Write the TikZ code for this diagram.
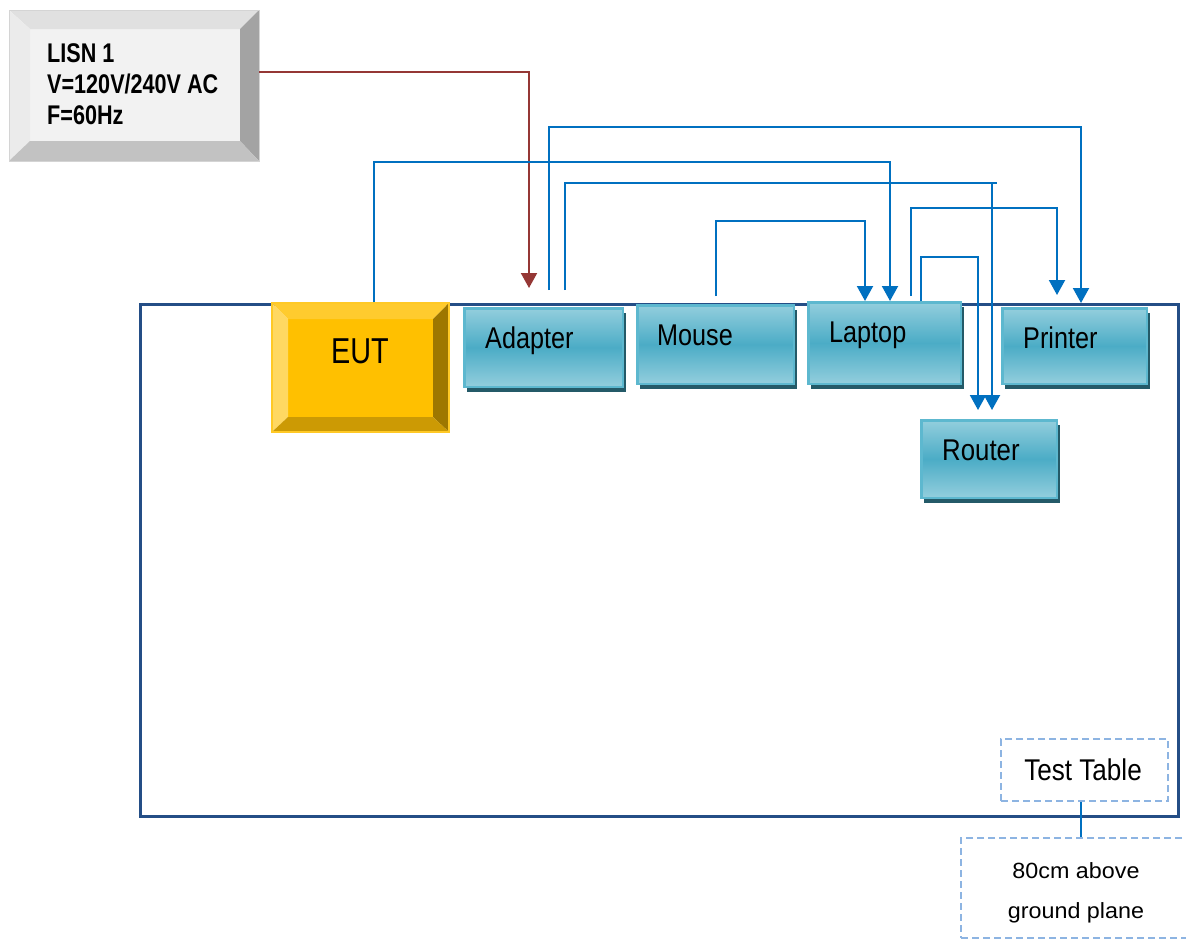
\documentclass[tikz,border=0pt]{standalone}
\usepackage{graphicx}
\usepackage{fontspec}
\setmainfont{Liberation Sans}
\usetikzlibrary{arrows.meta,shadows,calc}
\definecolor{tablec}{HTML}{244E86}
\definecolor{conn}{HTML}{0070C0}
\definecolor{redc}{HTML}{953735}
\definecolor{teallight}{HTML}{93CEDD}
\definecolor{tealmid}{HTML}{4BACC6}
\definecolor{tealedge}{HTML}{5DB8CF}
\definecolor{shadowc}{HTML}{245A68}
\definecolor{dashc}{HTML}{8DB4E2}
\definecolor{lisnface}{HTML}{F2F2F2}
\definecolor{lisntop}{HTML}{E0E0E0}
\definecolor{lisnleft}{HTML}{EBEBEB}
\definecolor{lisnright}{HTML}{A3A3A3}
\definecolor{lisnbot}{HTML}{C2C2C2}
\definecolor{lisnedge}{HTML}{D4D4D4}
\definecolor{eutface}{HTML}{FFC000}
\definecolor{euttop}{HTML}{FFCB2E}
\definecolor{eutleft}{HTML}{FFD862}
\definecolor{eutright}{HTML}{9E7700}
\definecolor{eutbot}{HTML}{CC9A04}
\definecolor{eutedge}{HTML}{FFC926}
\newcommand{\cx}[2][0.84]{\scalebox{#1}[1]{#2}}
\begin{document}
\begin{tikzpicture}[x=1pt,y=-1pt,
  tealbox/.style={draw=tealedge, line width=2.5pt, top color=teallight, bottom color=teallight, middle color=tealmid, inner sep=0,
    drop shadow={shadow xshift=3pt, shadow yshift=-5pt, fill=shadowc, opacity=1}},
  lbl/.style={inner sep=0, font=\fontsize{30}{36}\selectfont},
  lisnlbl/.style={inner sep=0, anchor=base west, font=\bfseries\fontsize{27}{31}\selectfont},
  conn/.style={draw=conn, line width=2pt},
  tip/.style={-{Triangle[width=16pt,length=15pt]}},
  dashbox/.style={draw=dashc, line width=1.8pt, dash pattern=on 7pt off 4pt, inner sep=0},
]
\useasboundingbox (0,0) rectangle (1186,940);
\fill[white] (0,0) rectangle (1186,940);

% test table outline
\node[draw=tablec, line width=3pt, minimum width=1038pt, minimum height=512pt, inner sep=0] (table) at (659,560) {};

% LISN
\fill[lisnface] (30,29) rectangle (240,141);
\fill[lisntop] (9,10) -- (259,10) -- (240,29) -- (30,29) -- cycle;
\fill[lisnleft] (9,10) -- (30,29) -- (30,141) -- (9,161) -- cycle;
\fill[lisnright] (259,10) -- (259,161) -- (240,141) -- (240,29) -- cycle;
\fill[lisnbot] (9,161) -- (30,141) -- (240,141) -- (259,161) -- cycle;
\node[draw=lisnedge, line width=1pt, minimum width=250pt, minimum height=151pt, inner sep=0] (lisn) at (134,85.5) {};
\node[lisnlbl] at (47,62) {\cx[0.8]{LISN 1}};
\node[lisnlbl] at (47,93) {\cx[0.8]{V=120V/240V AC}};
\node[lisnlbl] at (47,124) {\cx[0.8]{F=60Hz}};

% EUT
\fill[eutface] (288,319) rectangle (433,417);
\fill[euttop] (272,303) -- (449,303) -- (433,319) -- (288,319) -- cycle;
\fill[eutleft] (272,303) -- (288,319) -- (288,417) -- (272,432) -- cycle;
\fill[eutright] (449,303) -- (449,432) -- (433,417) -- (433,319) -- cycle;
\fill[eutbot] (272,432) -- (288,417) -- (433,417) -- (449,432) -- cycle;
\node[draw=eutedge, line width=1.5pt, minimum width=177pt, minimum height=129pt, inner sep=0] (eut) at (360.5,367.5) {};
\node[inner sep=0, anchor=base, font=\fontsize{36}{40}\selectfont] at (360,363) {\cx[0.8]{EUT}};

% teal boxes
\node[tealbox, minimum width=158.5pt, minimum height=78.5pt] (adapter) at (543.5,347.5) {};
\node[tealbox, minimum width=156.5pt, minimum height=78.5pt] (mouse) at (715.5,344.5) {};
\node[tealbox, minimum width=152.5pt, minimum height=81.5pt] (laptop) at (884.5,343) {};
\node[tealbox, minimum width=144.5pt, minimum height=75.5pt] (printer) at (1074.5,346) {};
\node[tealbox, minimum width=135.5pt, minimum height=77.5pt] (router) at (989,459) {};
\node[lbl, anchor=base west] at (485,348) {\cx{Adapter}};
\node[lbl, anchor=base west] at (657,345) {\cx{Mouse}};
\node[lbl, anchor=base west] at (829,342) {\cx{Laptop}};
\node[lbl, anchor=base west] at (1023,348) {\cx{Printer}};
\node[lbl, anchor=base west] at (942,460) {\cx[0.86]{Router}};

% free ends
\coordinate (lisnout) at (259,72);
\coordinate (redend) at (529,288);
\coordinate (adA) at (549,290);
\coordinate (adB) at (565,290);
\coordinate (msA) at (716,296);
\coordinate (lpA) at (911,296);

% connectors
\draw[draw=redc, line width=2pt, -{Triangle[width=16pt,length=15pt]}] (lisnout) -| (redend);
\draw[conn, tip] (eut.north -| 374,0) -- (374,162) -| (laptop.north -| 890,0);
\draw[conn, tip] (adA) -- (549,127) -| ($(printer.north -| 1081,0)+(0,-4)$);
\draw[conn] (adB) |- (997,183);
\draw[conn, tip] (992,183) -- ($(router.north -| 992,0)+(0,-9)$);
\draw[conn, tip] (msA) -- (716,221) -| (laptop.north -| 865,0);
\draw[conn, tip] (lpA) -- (911,208) -| ($(printer.north -| 1057,0)+(0,-12)$);
\draw[conn, tip] (laptop.north -| 921,0) -- (921,257) -| ($(router.north -| 978,0)+(0,-9)$);

% test table labels
\node[dashbox, fill=white, minimum width=167pt, minimum height=62pt] (tt) at (1084.5,770) {};
\node[lbl, anchor=base] at (1083,780) {\cx[0.87]{Test Table}};
\node[dashbox, minimum width=231pt, minimum height=100pt] (gp) at (1076.5,888) {};
\node[inner sep=0, anchor=base, font=\fontsize{22}{26}\selectfont] at (1076,878) {\cx[1.06]{80cm above}};
\node[inner sep=0, anchor=base, font=\fontsize{22}{26}\selectfont] at (1076,918) {\cx[1.06]{ground plane}};
\draw[conn] (tt.south -| 1081,0) -- (gp.north -| 1081,0);
\end{tikzpicture}
\end{document}
